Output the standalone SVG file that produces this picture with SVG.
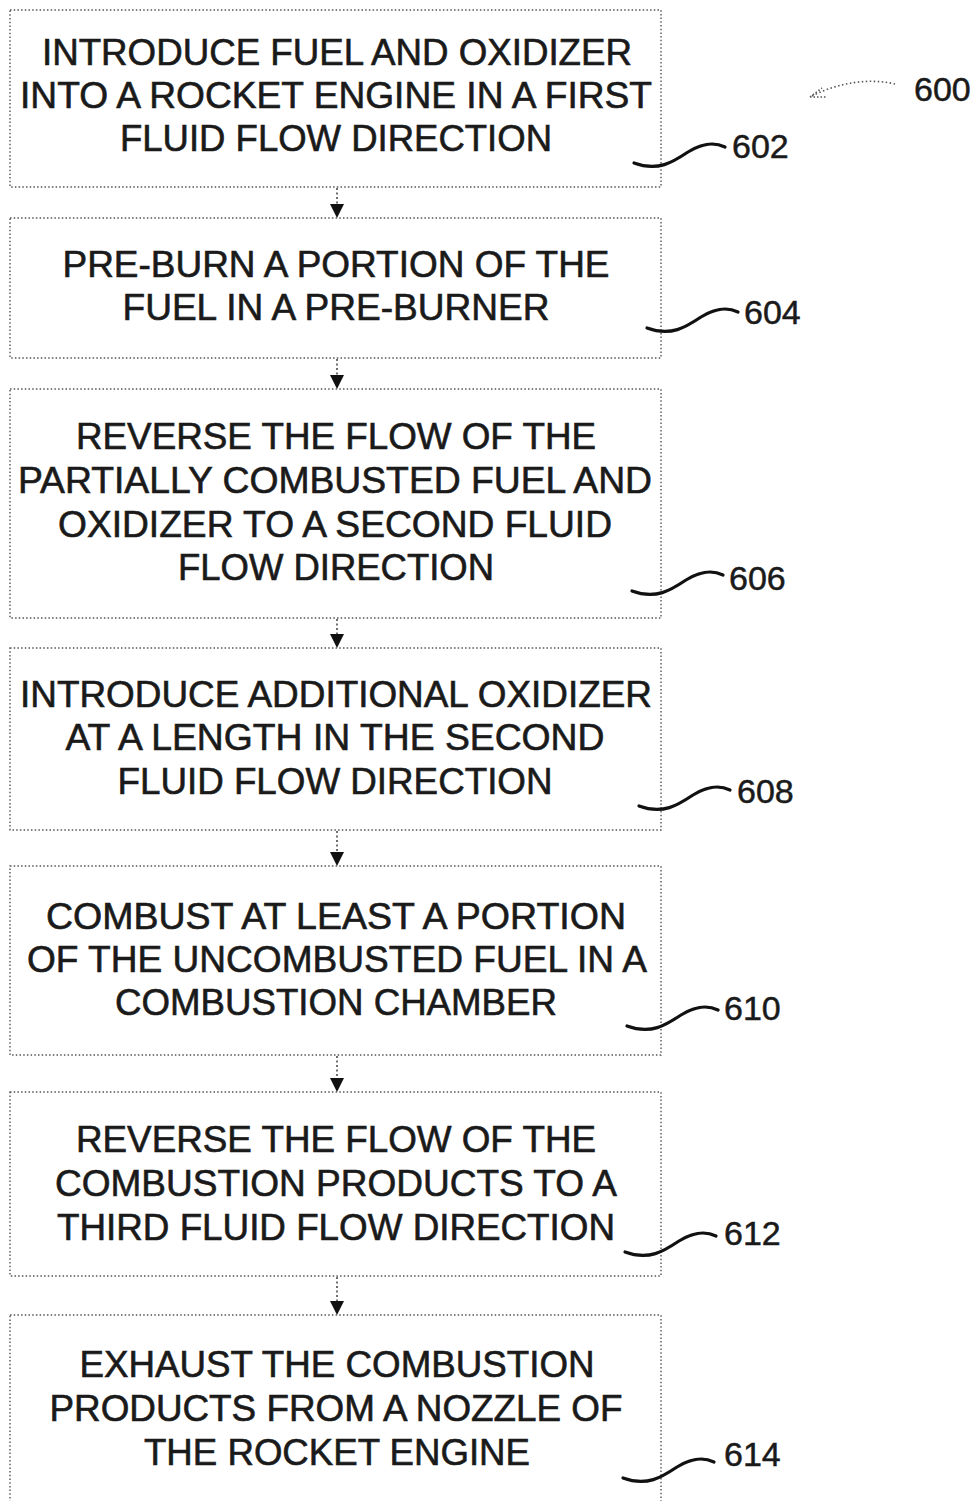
<svg xmlns="http://www.w3.org/2000/svg" width="978" height="1501" viewBox="0 0 978 1501">
<style>
.box{fill:#fff;stroke:#555;stroke-width:1.4;stroke-dasharray:1.5 2.2}
.t{font-family:"Liberation Sans",Arial,sans-serif;font-size:36px;fill:#1a1a1a;stroke:#1a1a1a;stroke-width:0.6;text-anchor:middle}
.lbl{font-family:"Liberation Sans",Arial,sans-serif;font-size:34px;fill:#1a1a1a;stroke:#1a1a1a;stroke-width:0.5}
.sq{fill:none;stroke:#111;stroke-width:3.2;stroke-linecap:round}
.cn{stroke:#333;stroke-width:1.4;stroke-dasharray:2 2.5;fill:none}
.ah{fill:#111}
</style>
<defs>
<path id="squig" class="sq" d="M0,0 C24,9 39,-1 54,-11 C69,-20 80,-21 91,-16"/>
</defs>
<rect width="978" height="1501" fill="#fff"/>
<g id="connectors">
<line class="cn" x1="337" y1="188" x2="337" y2="206"/><path class="ah" d="M330,204 L344,204 L337,218 Z"/>
<line class="cn" x1="337" y1="359" x2="337" y2="377"/><path class="ah" d="M330,375 L344,375 L337,389 Z"/>
<line class="cn" x1="337" y1="619" x2="337" y2="636"/><path class="ah" d="M330,634 L344,634 L337,648 Z"/>
<line class="cn" x1="337" y1="831" x2="337" y2="854"/><path class="ah" d="M330,852 L344,852 L337,866 Z"/>
<line class="cn" x1="337" y1="1056" x2="337" y2="1080"/><path class="ah" d="M330,1078 L344,1078 L337,1092 Z"/>
<line class="cn" x1="337" y1="1277" x2="337" y2="1303"/><path class="ah" d="M330,1301 L344,1301 L337,1315 Z"/>
</g>
<g id="ref600">
<path d="M895,84 C870,78 840,82 812,96" fill="none" stroke="#555" stroke-width="1.6" stroke-dasharray="1.5 2.5"/>
<path d="M810,97 L822,88 M810,97 L826,97" fill="none" stroke="#555" stroke-width="1.6" stroke-dasharray="1.5 2"/>
<text class="lbl" x="914" y="101">600</text>
</g>
<g id="n602">
<rect class="box" x="10" y="10" width="651" height="177"/>
<text class="t" x="337" y="65" textLength="590" lengthAdjust="spacingAndGlyphs">INTRODUCE FUEL AND OXIDIZER</text>
<text class="t" x="336" y="108" textLength="632" lengthAdjust="spacingAndGlyphs">INTO A ROCKET ENGINE IN A FIRST</text>
<text class="t" x="336" y="151" textLength="432" lengthAdjust="spacingAndGlyphs">FLUID FLOW DIRECTION</text>
<use href="#squig" x="634" y="163"/>
<text class="lbl" x="732" y="158">602</text>
</g>
<g id="n604">
<rect class="box" x="10" y="218" width="651" height="140"/>
<text class="t" x="336" y="277" textLength="547" lengthAdjust="spacingAndGlyphs">PRE-BURN A PORTION OF THE</text>
<text class="t" x="336" y="320" textLength="427" lengthAdjust="spacingAndGlyphs">FUEL IN A PRE-BURNER</text>
<use href="#squig" x="647" y="328"/>
<text class="lbl" x="744" y="324">604</text>
</g>
<g id="n606">
<rect class="box" x="10" y="389" width="651" height="229"/>
<text class="t" x="336" y="449" textLength="520" lengthAdjust="spacingAndGlyphs">REVERSE THE FLOW OF THE</text>
<text class="t" x="335" y="493" textLength="634" lengthAdjust="spacingAndGlyphs">PARTIALLY COMBUSTED FUEL AND</text>
<text class="t" x="335" y="537" textLength="554" lengthAdjust="spacingAndGlyphs">OXIDIZER TO A SECOND FLUID</text>
<text class="t" x="336" y="580" textLength="316" lengthAdjust="spacingAndGlyphs">FLOW DIRECTION</text>
<use href="#squig" x="632" y="591"/>
<text class="lbl" x="729" y="590">606</text>
</g>
<g id="n608">
<rect class="box" x="10" y="648" width="651" height="182"/>
<text class="t" x="336" y="707" textLength="632" lengthAdjust="spacingAndGlyphs">INTRODUCE ADDITIONAL OXIDIZER</text>
<text class="t" x="335" y="750" textLength="539" lengthAdjust="spacingAndGlyphs">AT A LENGTH IN THE SECOND</text>
<text class="t" x="335" y="794" textLength="435" lengthAdjust="spacingAndGlyphs">FLUID FLOW DIRECTION</text>
<use href="#squig" x="639" y="806"/>
<text class="lbl" x="737" y="803">608</text>
</g>
<g id="n610">
<rect class="box" x="10" y="866" width="651" height="189"/>
<text class="t" x="336" y="929" textLength="580" lengthAdjust="spacingAndGlyphs">COMBUST AT LEAST A PORTION</text>
<text class="t" x="337" y="972" textLength="620" lengthAdjust="spacingAndGlyphs">OF THE UNCOMBUSTED FUEL IN A</text>
<text class="t" x="336" y="1015" textLength="442" lengthAdjust="spacingAndGlyphs">COMBUSTION CHAMBER</text>
<use href="#squig" x="627" y="1026"/>
<text class="lbl" x="724" y="1020">610</text>
</g>
<g id="n612">
<rect class="box" x="10" y="1092" width="651" height="184"/>
<text class="t" x="336" y="1152" textLength="520" lengthAdjust="spacingAndGlyphs">REVERSE THE FLOW OF THE</text>
<text class="t" x="336" y="1196" textLength="562" lengthAdjust="spacingAndGlyphs">COMBUSTION PRODUCTS TO A</text>
<text class="t" x="336" y="1240" textLength="558" lengthAdjust="spacingAndGlyphs">THIRD FLUID FLOW DIRECTION</text>
<use href="#squig" x="625" y="1252"/>
<text class="lbl" x="724" y="1245">612</text>
</g>
<g id="n614">
<rect class="box" x="10" y="1315" width="651" height="190"/>
<text class="t" x="337" y="1377" textLength="515" lengthAdjust="spacingAndGlyphs">EXHAUST THE COMBUSTION</text>
<text class="t" x="336" y="1421" textLength="573" lengthAdjust="spacingAndGlyphs">PRODUCTS FROM A NOZZLE OF</text>
<text class="t" x="337" y="1465" textLength="386" lengthAdjust="spacingAndGlyphs">THE ROCKET ENGINE</text>
<use href="#squig" x="623" y="1478"/>
<text class="lbl" x="724" y="1466">614</text>
</g>
</svg>
